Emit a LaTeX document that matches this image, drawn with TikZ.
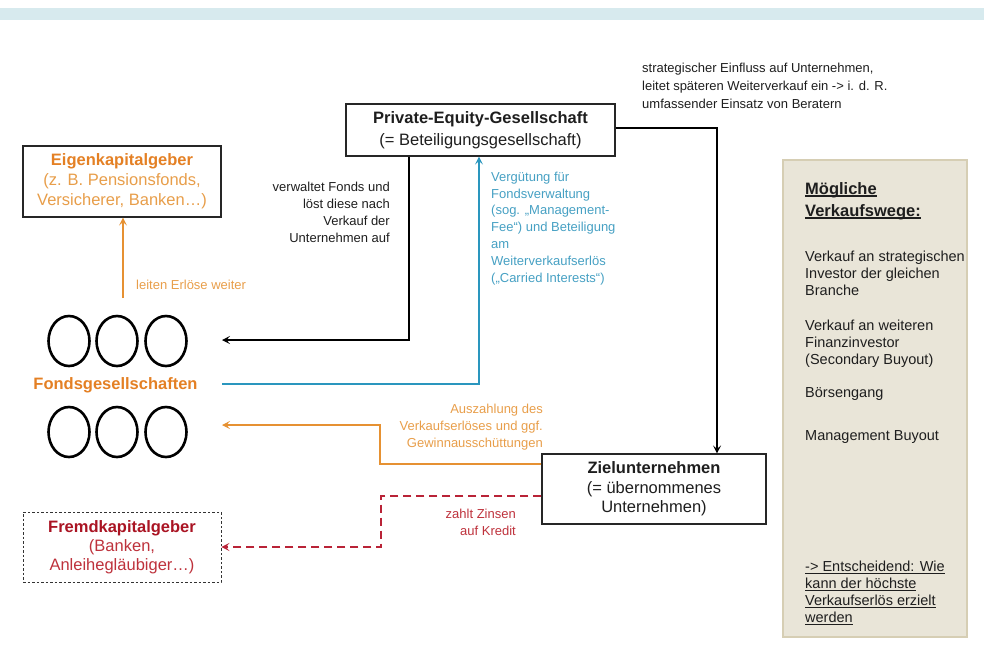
\documentclass[tikz,border=0pt]{standalone}
\usepackage{fontspec}
\setmainfont{Liberation Sans}
\usetikzlibrary{arrows.meta,shapes.geometric}
\definecolor{barC}{RGB}{215,234,238}
\definecolor{orangeT}{RGB}{228,128,36}
\definecolor{orangeS}{RGB}{232,158,74}
\definecolor{orangeL}{RGB}{230,145,50}
\definecolor{blueL}{RGB}{42,150,190}
\definecolor{blueT}{RGB}{70,160,195}
\definecolor{redT}{RGB}{170,20,35}
\definecolor{redS}{RGB}{190,50,60}
\definecolor{redL}{RGB}{185,35,55}
\definecolor{panelF}{RGB}{233,229,216}
\definecolor{panelD}{RGB}{214,206,180}
\definecolor{txt}{RGB}{30,30,30}
\newsavebox{\myulbox}
\newcommand{\myul}[1]{\sbox{\myulbox}{#1}\rlap{\rule[-2.4pt]{\wd\myulbox}{1.1pt}}\usebox{\myulbox}}
\begin{document}
\begin{tikzpicture}[x=1pt,y=-1pt,
  box/.style={draw=black!85, line width=1.1pt, fill=white, align=center, inner sep=0pt, text=txt},
  bigf/.style={font=\fontsize{16.5}{20}\selectfont},
  sm/.style={font=\fontsize{13}{17}\selectfont, inner sep=0pt, text=txt},
  pan/.style={font=\fontsize{14.5}{16.7}\selectfont, inner sep=0pt, text=txt, align=left, anchor=north west},
  fund/.style={ellipse, draw=black, line width=2.6pt, minimum width=41pt, minimum height=50pt, inner sep=0pt},
  conn/.style={line width=1.7pt},
  arrowend/.style={-{Stealth[length=8pt,width=8pt,inset=3.5pt]}},
]
\useasboundingbox (0,0) rectangle (984,667);
\fill[barC] (0,8) rectangle (984,20);

% main boxes
\node[box, font=\fontsize{16.5}{22}\selectfont, minimum width=269pt, minimum height=52pt] (pe) at (480.5,130)
  {\textbf{Private-Equity-Gesellschaft}\\(= Beteiligungsgesellschaft)};
\node[box, bigf, text=orangeS, minimum width=198pt, minimum height=71pt] (ek) at (122,181.5)
  {\textcolor{orangeT}{\textbf{Eigenkapitalgeber}}\\(z. B. Pensionsfonds,\\Versicherer, Banken…)};
\node[box, font=\fontsize{16.5}{19.5}\selectfont, minimum width=224pt, minimum height=70pt] (zu) at (654,489)
  {\textbf{Zielunternehmen}\\(= übernommenes\\Unternehmen)};
\node[box, draw=black!80, line width=0.9pt, dash pattern=on 2.5pt off 2pt, font=\fontsize{16.5}{19}\selectfont, text=redS, minimum width=198pt, minimum height=70pt] (fk) at (122,547)
  {\textcolor{redT}{\textbf{Fremdkapitalgeber}}\\(Banken,\\Anleihegläubiger…)};

% funds
\node[fund] (f1) at (69,341) {};
\node[fund] (f2) at (117,341) {};
\node[fund] (f3) at (166,341) {};
\node[fund] (f4) at (69,432) {};
\node[fund] (f5) at (117,432) {};
\node[fund] (f6) at (166,432) {};
\node[font=\fontsize{16.5}{20}\selectfont\bfseries, text=orangeT, inner sep=0pt] (fg) at (115.5,385) {Fondsgesellschaften};

% right panel
\node[draw=panelD, line width=2.5pt, fill=panelF, minimum width=184pt, minimum height=477pt, inner sep=0pt] (panel) at (875,398.5) {};
\node[pan, font=\fontsize{16.5}{22}\selectfont\bfseries] (ph) at (805,182) {\myul{Mögliche}\\\myul{Verkaufswege:}};
\node[pan] (p1) at (805,251) {Verkauf an strategischen\\Investor der gleichen\\Branche};
\node[pan] (p2) at (805,320) {Verkauf an weiteren\\Finanzinvestor\\(Secondary Buyout)};
\node[pan] (p3) at (805,387) {Börsengang};
\node[pan] (p4) at (805,430) {Management Buyout};
\node[pan, font=\fontsize{14.5}{17}\selectfont] (p5) at (805,561) {\myul{-> Entscheidend: Wie}\\\myul{kann der höchste}\\\myul{Verkaufserlös erzielt}\\\myul{werden}};

% labels
\node[sm, font=\fontsize{13}{18}\selectfont, align=left, anchor=north west] (lt) at (642,63)
  {strategischer Einfluss auf Unternehmen,\\leitet späteren Weiterverkauf ein -> i. d. R.\\umfassender Einsatz von Beratern};
\node[sm, align=right, anchor=north east] (lv) at (390,182)
  {verwaltet Fonds und\\löst diese nach\\Verkauf der\\Unternehmen auf};
\node[sm, font=\fontsize{13}{16.8}\selectfont, text=blueT, align=left, anchor=north west] (lb) at (491,171.6)
  {Vergütung für\\Fondsverwaltung\\(sog. „Management-\\Fee“) und Beteiligung\\am\\Weiterverkaufserlös\\(„Carried Interests“)};
\node[sm, text=orangeS, anchor=west] (le) at (136,285) {leiten Erlöse weiter};
\node[sm, text=orangeS, align=right, anchor=north east] (la) at (543,404)
  {Auszahlung des\\Verkaufserlöses und ggf.\\Gewinnausschüttungen};
\node[sm, text=redS, align=right, anchor=north east] (lz) at (516,509)
  {zahlt Zinsen\\auf Kredit};

% connectors
\coordinate (inA) at (222,340);
\draw[conn, arrowend] ([xshift=-71.5pt]pe.south) |- (inA);
\coordinate (bS) at (222,384);
\draw[conn, blueL, arrowend] (bS) -| ([xshift=-1.5pt]pe.south);
\draw[conn, arrowend] ([yshift=2pt]pe.east) -| ([xshift=63pt]zu.north);
\coordinate (oC) at (380,425);
\coordinate (oE) at (222,425);
\draw[conn, orangeL, arrowend] ([yshift=25pt]zu.west) -| (oC) -- (oE);
\coordinate (rC) at (381,547);
\draw[conn, redL, dash pattern=on 8pt off 5pt, arrowend] ([yshift=-7pt]zu.west) -| (rC) -- (fk.east);
\coordinate (ekS) at (123,298);
\draw[conn, orangeL, arrowend] (ekS) -- (ekS |- ek.south);
\end{tikzpicture}
\end{document}
